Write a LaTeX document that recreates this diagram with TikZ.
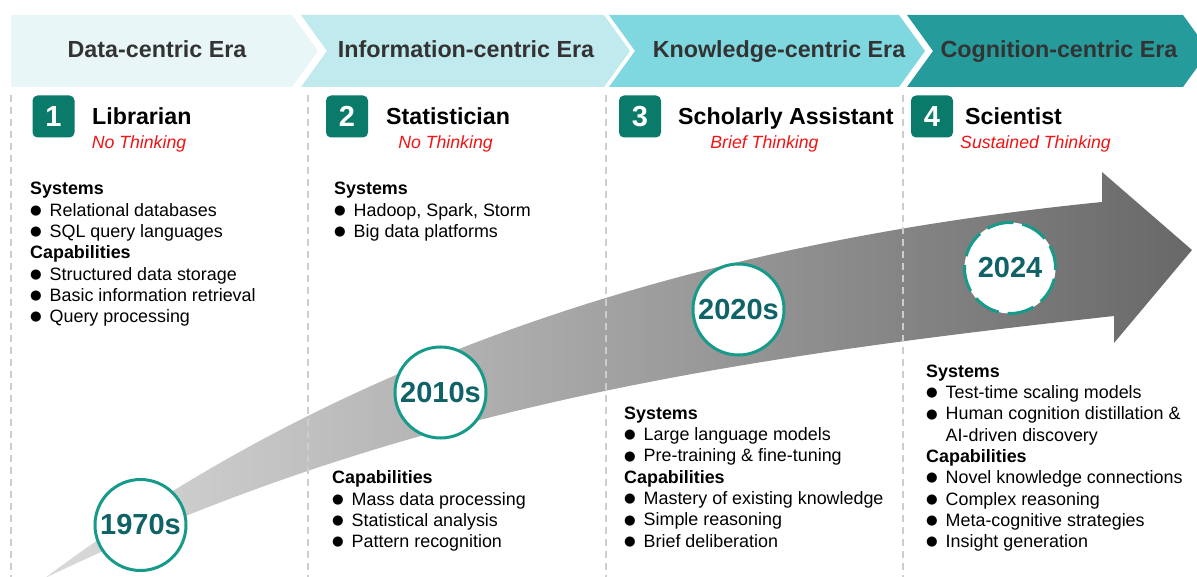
\documentclass[tikz,border=0pt]{standalone}
\usepackage{fontspec}
\setmainfont{Liberation Sans}
\newfontfamily\symf{DejaVu Sans}
\definecolor{bnA}{RGB}{232,246,247}
\definecolor{bnB}{RGB}{193,234,238}
\definecolor{bnC}{RGB}{127,215,224}
\definecolor{bnD}{RGB}{38,155,155}
\definecolor{hdrtext}{RGB}{51,51,51}
\definecolor{numgreen}{RGB}{10,122,106}
\definecolor{subred}{RGB}{240,20,20}
\definecolor{ringc}{RGB}{23,154,138}
\definecolor{yeartext}{RGB}{15,98,102}
\definecolor{sepgray}{RGB}{205,205,205}
\definecolor{arrowL}{RGB}{218,218,218}
\definecolor{arrowR}{RGB}{104,104,104}
\newcommand\bul{\makebox[19.5pt][l]{\raisebox{1.8pt}{\symf\fontsize{13.3}{13.3}\selectfont ●}}}
\newcommand\ind{\hspace*{19.5pt}}
\begin{document}
\begin{tikzpicture}[x=1pt,y=-1pt,
  hdr/.style={font=\fontsize{23.3}{23.3}\selectfont\bfseries, text=hdrtext, anchor=base, inner sep=0},
  ttl/.style={font=\fontsize{23.2}{23.2}\selectfont\bfseries, anchor=base west, inner sep=0},
  sub/.style={font=\fontsize{17.7}{17.7}\selectfont\itshape, text=subred, anchor=base, inner sep=0},
  numbox/.style={fill=numgreen, rounded corners=5pt, minimum size=42pt, inner sep=0, text=white, font=\fontsize{29}{29}\selectfont\bfseries},
  body/.style={font=\fontsize{17.9}{21.3}\selectfont, align=left, anchor=north west, inner sep=0},
  era/.style={circle, draw=ringc, line width=3pt, fill=white, minimum size=91pt, inner sep=0, text=yeartext, font=\fontsize{29}{29}\selectfont\bfseries},
  sep/.style={draw=sepgray, line width=2pt, dash pattern=on 7pt off 5pt},
  bannerA/.style={fill=bnA}, bannerB/.style={fill=bnB}, bannerC/.style={fill=bnC}, bannerD/.style={fill=bnD}
]
\useasboundingbox (0,0) rectangle (1197,577);
\fill[white] (0,0) rectangle (1197,577);
\begin{scope}
\clip (0,0) rectangle (1197,577);
% banners
\fill[bannerA] (11,15) -- (292,15) -- (318,51) -- (292,87) -- (11,87) -- cycle;
\fill[bannerB] (301,15) -- (604,15) -- (630,51) -- (604,87) -- (301,87) -- (327,51) -- cycle;
\fill[bannerC] (609,15) -- (899,15) -- (925,51) -- (899,87) -- (609,87) -- (635,51) -- cycle;
\fill[bannerD] (907,15) -- (1183,15) -- (1209,51) -- (1183,87) -- (907,87) -- (933,51) -- cycle;
% arrow
\path[left color=arrowL, right color=arrowR]
  (45,578) .. controls (345,353) and (702,242) .. (1102,202)
  -- (1102,172) -- (1192,250) -- (1114,343) -- (1114,316)
  .. controls (714,360) and (395,410) .. (45,578)
  -- cycle;
\end{scope}
% separators
\draw[sep] (11,95) -- (11,577);
\draw[sep] (308,95) -- (308,577);
\draw[sep] (605.5,95) -- (605.5,577);
\draw[sep] (903,95) -- (903,577);
% header texts
\node[hdr] (h1) at (157,57.5) {Data-centric Era};
\node[hdr] (h2) at (466,57.5) {Information-centric Era};
\node[hdr] (h3) at (779,57.5) {Knowledge-centric Era};
\node[hdr] (h4) at (1059,57.5) {Cognition-centric Era};
% number boxes
\node[numbox] (n1) at (53.5,116.5) {1};
\node[numbox] (n2) at (347,116.5) {2};
\node[numbox] (n3) at (640,116.5) {3};
\node[numbox] (n4) at (932,116.5) {4};
% titles
\node[ttl] (t1) at (92,124.3) {Librarian};
\node[ttl] (t2) at (386,124.3) {Statistician};
\node[ttl] (t3) at (678,124.3) {Scholarly Assistant};
\node[ttl] (t4) at (965,124.3) {Scientist};
\node[sub] (s1) at (139,148.3) {No Thinking};
\node[sub] (s2) at (445.5,148.3) {No Thinking};
\node[sub] (s3) at (764.5,148.3) {Brief Thinking};
\node[sub] (s4) at (1035.5,148.3) {Sustained Thinking};
% bodies
\node[body] (b1) at (30,182.3) {\textbf{Systems}\\ \bul Relational databases\\ \bul SQL query languages\\ \textbf{Capabilities}\\ \bul Structured data storage\\ \bul Basic information retrieval\\ \bul Query processing};
\node[body] (b2) at (334,182.3) {\textbf{Systems}\\ \bul Hadoop, Spark, Storm\\ \bul Big data platforms};
\node[body] (b2c) at (332,470.6) {\textbf{Capabilities}\\ \bul Mass data processing\\ \bul Statistical analysis\\ \bul Pattern recognition};
\node[body] (b3) at (624,406.6) {\textbf{Systems}\\ \bul Large language models\\ \bul Pre-training \& fine-tuning\\ \textbf{Capabilities}\\ \bul Mastery of existing knowledge\\ \bul Simple reasoning\\ \bul Brief deliberation};
\node[body] (b4) at (926,364.6) {\textbf{Systems}\\ \bul Test-time scaling models\\ \bul Human cognition distillation \&\\ \ind AI-driven discovery\\ \textbf{Capabilities}\\ \bul Novel knowledge connections\\ \bul Complex reasoning\\ \bul Meta-cognitive strategies\\ \bul Insight generation};
% era circles
\node[era] (c1) at (140.5,525) {1970s};
\node[era] (c2) at (440.5,392.5) {2010s};
\node[era] (c3) at (738.5,309.5) {2020s};
\node[era, dash pattern=on 27pt off 9pt, dash phase=4pt] (c4) at (1010,268) {2024};
\end{tikzpicture}
\end{document}
